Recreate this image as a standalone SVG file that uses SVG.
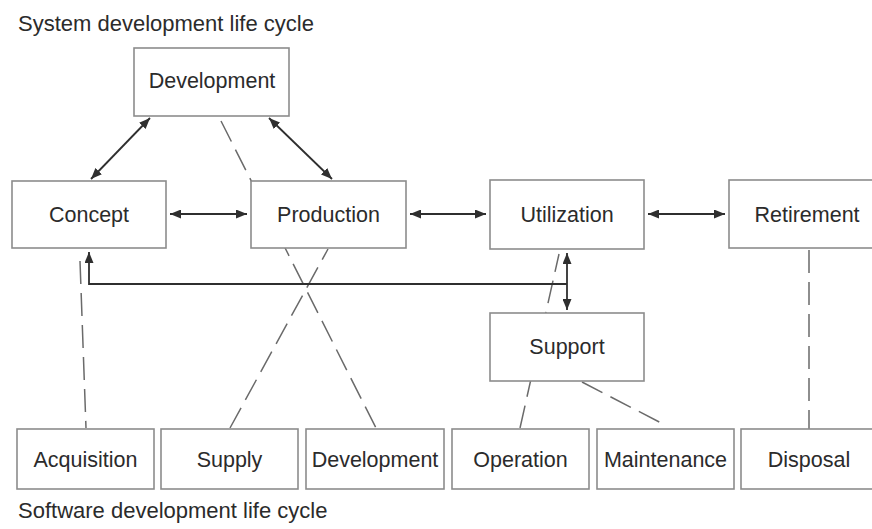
<svg xmlns="http://www.w3.org/2000/svg" width="872" height="529" viewBox="0 0 872 529">
  <style>
    .box { fill: #ffffff; stroke: #8c8c8c; stroke-width: 1.6; }
    .lbl { font-family: "Liberation Sans", Arial, sans-serif; font-size: 21.5px; fill: #2b2b2b; text-anchor: middle; }
    .title { font-family: "Liberation Sans", Arial, sans-serif; font-size: 22px; fill: #2b2b2b; }
    .arrow { fill: none; stroke: #2f2f2f; stroke-width: 1.8; }
    .dash { fill: none; stroke: #6a6a6a; stroke-width: 1.5; stroke-dasharray: 23 9; }
  </style>
  <defs>
    <marker id="head" markerUnits="userSpaceOnUse" markerWidth="11" markerHeight="9" refX="11" refY="4.5" orient="auto-start-reverse">
      <path d="M0,0 L11,4.5 L0,9 z" fill="#2f2f2f"/>
    </marker>
  </defs>
  <rect width="872" height="529" fill="#ffffff"/>

  <text class="title" x="18" y="31">System development life cycle</text>
  <text class="title" x="18" y="518">Software development life cycle</text>

  <!-- dashed mappings from software processes to system stages -->
  <g id="mappings">
    <line class="dash" x1="80" y1="261" x2="86" y2="428"/>
    <line class="dash" x1="230" y1="428" x2="328" y2="249"/>
    <line class="dash" x1="221" y1="121" x2="376" y2="428"/>
    <line class="dash" x1="520" y1="428" x2="559" y2="254"/>
    <line class="dash" x1="582" y1="382" x2="665" y2="425"/>
    <line class="dash" x1="809" y1="250" x2="809" y2="429"/>
  </g>

  <!-- system stages -->
  <g id="sys-development"><rect class="box" x="134" y="48" width="155" height="68"/><text class="lbl" x="212" y="88">Development</text></g>
  <g id="concept"><rect class="box" x="12" y="181" width="154" height="67"/><text class="lbl" x="89" y="222">Concept</text></g>
  <g id="production"><rect class="box" x="251" y="181" width="155" height="67"/><text class="lbl" x="328.5" y="222">Production</text></g>
  <g id="utilization"><rect class="box" x="490" y="180" width="154" height="69"/><text class="lbl" x="567" y="222">Utilization</text></g>
  <g id="retirement"><rect class="box" x="729" y="180" width="156" height="68"/><text class="lbl" x="807" y="222">Retirement</text></g>
  <g id="support"><rect class="box" x="490" y="313" width="154" height="68"/><text class="lbl" x="567" y="354">Support</text></g>

  <!-- software processes -->
  <g id="acquisition"><rect class="box" x="17" y="429" width="137" height="60"/><text class="lbl" x="85.5" y="467">Acquisition</text></g>
  <g id="supply"><rect class="box" x="161" y="429" width="137" height="60"/><text class="lbl" x="229.5" y="467">Supply</text></g>
  <g id="sw-development"><rect class="box" x="306" y="429" width="138" height="60"/><text class="lbl" x="375" y="467">Development</text></g>
  <g id="operation"><rect class="box" x="452" y="429" width="137" height="60"/><text class="lbl" x="520.5" y="467">Operation</text></g>
  <g id="maintenance"><rect class="box" x="597" y="429" width="137" height="60"/><text class="lbl" x="665.5" y="467">Maintenance</text></g>
  <g id="disposal"><rect class="box" x="741" y="429" width="137" height="60"/><text class="lbl" x="809" y="467">Disposal</text></g>

  <!-- stage transitions -->
  <g id="connectors">
    <line class="arrow" x1="150" y1="118" x2="91" y2="179" marker-start="url(#head)" marker-end="url(#head)"/>
    <line class="arrow" x1="269" y1="118" x2="332" y2="179" marker-start="url(#head)" marker-end="url(#head)"/>
    <line class="arrow" x1="170" y1="214" x2="247" y2="214" marker-start="url(#head)" marker-end="url(#head)"/>
    <line class="arrow" x1="410" y1="214" x2="486" y2="214" marker-start="url(#head)" marker-end="url(#head)"/>
    <line class="arrow" x1="648" y1="214" x2="725" y2="214" marker-start="url(#head)" marker-end="url(#head)"/>
    <line class="arrow" x1="567" y1="253" x2="567" y2="310" marker-start="url(#head)" marker-end="url(#head)"/>
    <polyline class="arrow" points="567,284 89,284 89,252" marker-end="url(#head)"/>
  </g>
</svg>
